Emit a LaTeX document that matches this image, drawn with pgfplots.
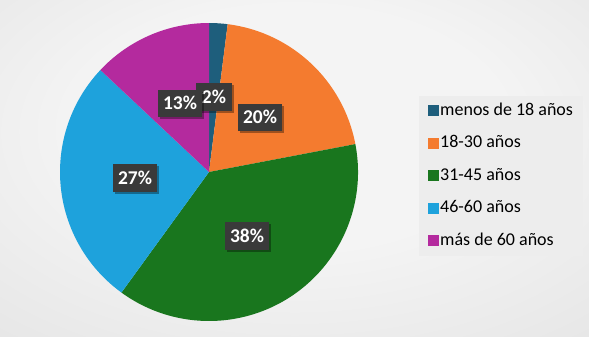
\documentclass[border=0pt]{standalone}
\usepackage{pgfplots}
\pgfplotsset{compat=1.18}
\usepackage{fontspec}
\setmainfont{Carlito}
\usetikzlibrary{shadows}
\definecolor{cA}{HTML}{1E5E7C}
\definecolor{cB}{HTML}{F47B2F}
\definecolor{cC}{HTML}{19761E}
\definecolor{cD}{HTML}{1EA2DC}
\definecolor{cE}{HTML}{B42A9E}
\definecolor{bgin}{HTML}{F4F4F4}
\definecolor{bgout}{HTML}{CFCFCF}
\definecolor{legbg}{HTML}{EDEDED}
\definecolor{lblbg}{HTML}{3A3A3A}
\pgfdeclareradialshading{bgshade}{\pgfpoint{0bp}{8bp}}{color(0bp)=(bgin); color(18bp)=(bgin); color(75bp)=(bgout)}
\tikzset{lbl/.style={fill=lblbg, text=white,
    font=\fontsize{19.5bp}{22bp}\selectfont\bfseries,
    inner xsep=5.5bp, inner ysep=7.5bp, text height=12.5bp, text depth=0pt,
    drop shadow={shadow xshift=2bp, shadow yshift=-2bp, opacity=0.35, fill=black}}}
\begin{document}
\begin{tikzpicture}
\begin{axis}[
  hide axis, scale only axis,
  width=589bp, height=337bp,
  xmin=0, xmax=589, ymin=0, ymax=337, y dir=reverse,
  clip=false,
  legend style={at={(0.7114,0.715)}, anchor=north west,
    fill=legbg, draw=none,
    font=\fontsize{18bp}{21bp}\selectfont,
    inner xsep=9bp, inner ysep=7bp,
    row sep=17bp,
    cells={anchor=west},
    nodes={inner xsep=1bp, inner ysep=0pt, text height=12bp, text depth=3.5bp}},
  legend image code/.code={\fill[#1] (0bp,-5.5bp) rectangle (11bp,5.5bp);},
]
\shade[shading=bgshade] (axis cs:0,0) rectangle (axis cs:589,337);
% pie: values in percent, clockwise from 12 o'clock
\xdef\startang{90}
\foreach \v/\c in {2/cA, 20/cB, 38/cC, 27/cD, 13/cE} {
  \pgfmathsetmacro\endang{\startang-3.6*\v}
  \edef\tmp{\noexpand\fill[\c] (axis cs:209,172) -- ++(\startang:149bp)
    arc[start angle=\startang, end angle=\endang, radius=149bp] -- cycle;}
  \tmp
  \xdef\startang{\endang}
}
\node[lbl] at (axis cs:214,97) {2\%};
\node[lbl] at (axis cs:180,103.5) {13\%};
\node[lbl] at (axis cs:260,117.5) {20\%};
\node[lbl] at (axis cs:135,178) {27\%};
\node[lbl] at (axis cs:247,236) {38\%};
\addlegendimage{fill=cA, draw=none}
\addlegendimage{fill=cB, draw=none}
\addlegendimage{fill=cC, draw=none}
\addlegendimage{fill=cD, draw=none}
\addlegendimage{fill=cE, draw=none}
\legend{menos de 18 años, 18-30 años, 31-45 años, 46-60 años, más de 60 años}
\end{axis}
\end{tikzpicture}
\end{document}
